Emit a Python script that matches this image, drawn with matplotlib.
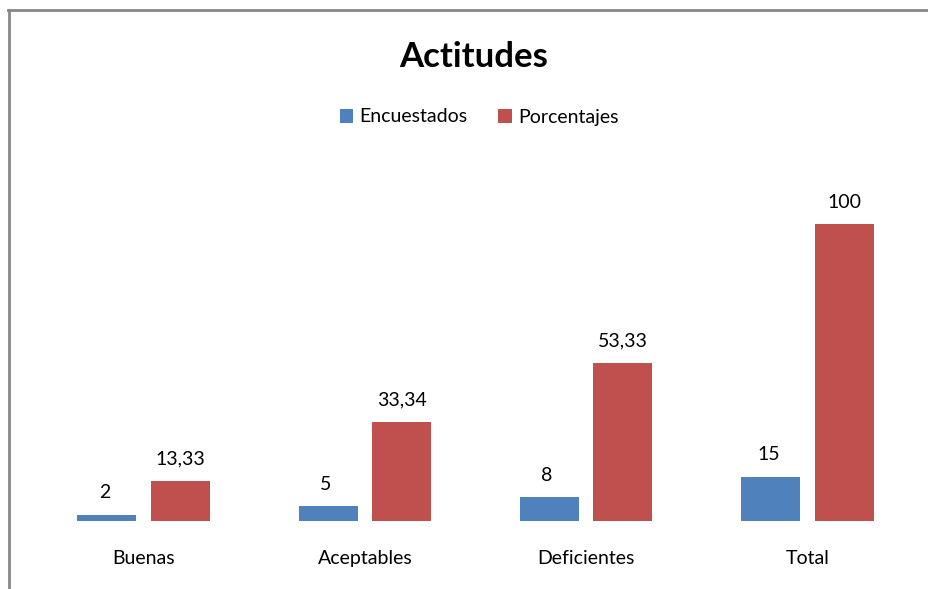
import numpy as np
import matplotlib
matplotlib.use("Agg")
import matplotlib.pyplot as plt

plt.rcParams['font.family'] = ['Lato', 'DejaVu Sans']

categories = ["Buenas", "Aceptables", "Deficientes", "Total"]
encuestados = [2, 5, 8, 15]
porcentajes = [13.33, 33.34, 53.33, 100]
enc_labels = ["2", "5", "8", "15"]
por_labels = ["13,33", "33,34", "53,33", "100"]

W, H = 929, 589
fig = plt.figure(figsize=(W / 100, H / 100), dpi=100)

# plot area placed in pixel terms (top-left origin)
left, right, top, bottom = 33, 918, 165, 521
ax = fig.add_axes([left / W, 1 - bottom / H, (right - left) / W, (bottom - top) / H])

x = np.arange(len(categories))
bw = 0.267
off = 0.166
blue = "#4f81bd"
red = "#c0504d"
ax.bar(x - off, encuestados, bw, color=blue, label="Encuestados")
ax.bar(x + off, porcentajes, bw, color=red, label="Porcentajes")

for xi, v, t in zip(x, encuestados, enc_labels):
    ax.text(xi - off - 0.01, v + 4.6, t, ha="center", va="bottom", fontsize=14)
for xi, v, t in zip(x, porcentajes, por_labels):
    ax.text(xi + off, v + 4.6, t, ha="center", va="bottom", fontsize=14)

ax.set_xlim(-0.5, len(categories) - 0.5)
ax.set_ylim(0, 120)
ax.set_xticks(x)
ax.set_xticklabels(categories, fontsize=14)
ax.tick_params(axis="x", length=0, pad=21)
ax.set_yticks([])
for s in ax.spines.values():
    s.set_visible(False)

fig.text(474 / W, 1 - 57 / H, "Actitudes", ha="center", va="center",
         fontsize=25, fontweight="bold")
fig.legend(loc="center", bbox_to_anchor=(479 / W, 1 - 117 / H), ncol=2,
           frameon=False, fontsize=14, handlelength=0.7, handleheight=0.7,
           handletextpad=0.3, columnspacing=1.6)

# outer chart border (only left and top edges visible)
fig.add_artist(plt.Line2D([9 / W, 9 / W], [0, 1 - 10 / H], transform=fig.transFigure,
                          color="#878787", linewidth=2))
fig.add_artist(plt.Line2D([8 / W, 1], [1 - 10 / H, 1 - 10 / H], transform=fig.transFigure,
                          color="#878787", linewidth=2))

fig.savefig("out.png", dpi=100)
